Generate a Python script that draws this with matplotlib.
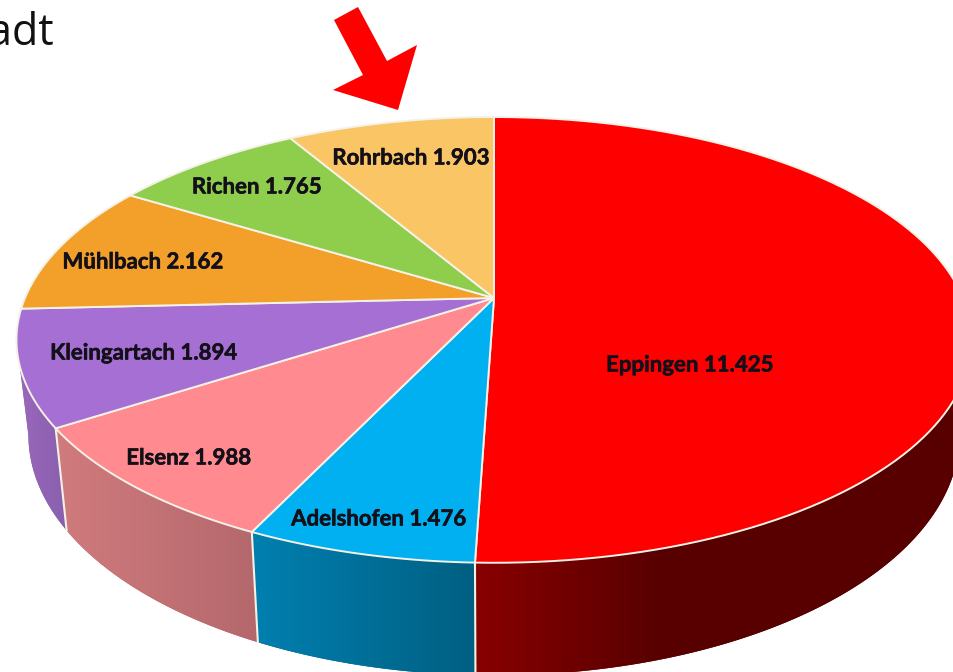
import numpy as np
import matplotlib
matplotlib.use("Agg")
import matplotlib.pyplot as plt
import matplotlib.patheffects as pe
from matplotlib.colors import to_rgb

# Data
names = ["Eppingen", "Adelshofen", "Elsenz", "Kleingartach", "Mühlbach", "Richen", "Rohrbach"]
values = [11.425, 1.476, 1.988, 1.894, 2.162, 1.765, 1.903]
value_labels = ["11.425", "1.476", "1.988", "1.894", "2.162", "1.765", "1.903"]

top_colors = ["#ff0000", "#00b0f0", "#ff8a90", "#a56fd3", "#f2a02a", "#8fce4d", "#f9c565"]
wall_left = ["#880000", "#0080b0", "#d07b7e", "#9a68bc"]
wall_right = ["#580000", "#005f82", "#b4686c", "#8a5fae"]
label_xy = [(690, 365), (379, 519), (189, 458), (144, 353), (143, 262), (257, 187), (411, 158)]

# Arrow outline and layout, in pixels
arrow_x = [358, 334, 363, 333, 398, 417, 387]
arrow_y = [7, 20, 75, 90, 110, 45, 61]

# Perspective of the disc: pixel position of its centre and tilt
cx, cy = 494, 298
rx, ry, tilt = 469, 215, 0.188
line_col = "#f4f1e6"


def rim(angle):
    """Top rim, angle in radians clockwise from 12 o'clock."""
    u, v = np.sin(angle), np.cos(angle)
    w = 1 + tilt * v
    return cx + rx * u / w, cy - ry * v / w


def base(angle):
    """Lower edge of the wall below the rim."""
    x, y = rim(angle)
    return cx + 0.975 * (x - cx), cy + 92 + 1.078 * (y - cy)


fig = plt.figure(figsize=(9.54, 6.72), dpi=100)
ax = fig.add_axes([0, 0, 1, 1])

shares = np.array(values) / np.sum(values)
edges = np.concatenate([[0], np.cumsum(shares)]) * 2 * np.pi

# The wall is only visible between the rightmost and leftmost rim points
dense = np.linspace(0, 2 * np.pi, 2000)
a_right = dense[np.argmax(rim(dense)[0])]
a_left = dense[np.argmin(rim(dense)[0])]

# Walls first, only the wedges that face the viewer
for i in range(len(wall_left)):
    steps = np.linspace(max(edges[i], a_right), min(edges[i + 1], a_left), 200)
    xs = np.r_[rim(steps)[0], base(steps)[0][::-1]]
    ys = np.r_[rim(steps)[1], base(steps)[1][::-1]]
    poly = ax.fill(xs, ys, color=wall_right[i], lw=0, zorder=1)[0]
    # horizontal gradient, the big slice reaches its darkest quickly
    x0, x1 = xs.min(), xs.max()
    if i == 0:
        x0, x1 = 475, 660
    grad_x = np.linspace(xs.min(), xs.max(), 512)
    t = np.clip((grad_x - x0) / (x1 - x0), 0, 1)
    c0, c1 = np.array(to_rgb(wall_left[i])), np.array(to_rgb(wall_right[i]))
    img = c0 + (c1 - c0) * t[:, None]
    im = ax.imshow(img[None, :, :], extent=(xs.min(), xs.max(), ys.max(), ys.min()),
                   aspect="auto", interpolation="bilinear", zorder=1.5)
    im.set_clip_path(poly)

ax.set_xlim(0, 954)
ax.set_ylim(672, 0)
ax.axis("off")

# Top faces
for i in range(len(values)):
    steps = np.linspace(edges[i], edges[i + 1], 120)
    xs, ys = rim(steps)
    ax.fill(np.r_[cx, xs], np.r_[cy, ys], facecolor=top_colors[i], edgecolor=line_col,
            lw=1.4, joinstyle="round", zorder=2)

# Separators on the walls
for a in edges[1:4]:
    xa, ya = rim(a)
    xb, yb = base(a)
    ax.plot([xa, xb], [ya, yb], color=line_col, lw=1.5, zorder=3)

# Labels
for name, val, (x, y) in zip(names, value_labels, label_xy):
    ax.text(x, y, f"{name} {val}", ha="center", va="center", fontsize=16,
            family="Lato", fontweight="bold", color="#14101a", zorder=4,
            path_effects=[pe.withStroke(linewidth=0.4, foreground="#14101a")])

# Red arrow above Rohrbach
ax.fill(arrow_x, arrow_y, color="#ff0000", lw=0, zorder=5)

# Leftover of the slide title, cut off at the left edge
ax.text(54, 45, "adt", ha="right", va="baseline", fontsize=31, family="Open Sans", color="#111111")

fig.savefig("out.png", dpi=100)
